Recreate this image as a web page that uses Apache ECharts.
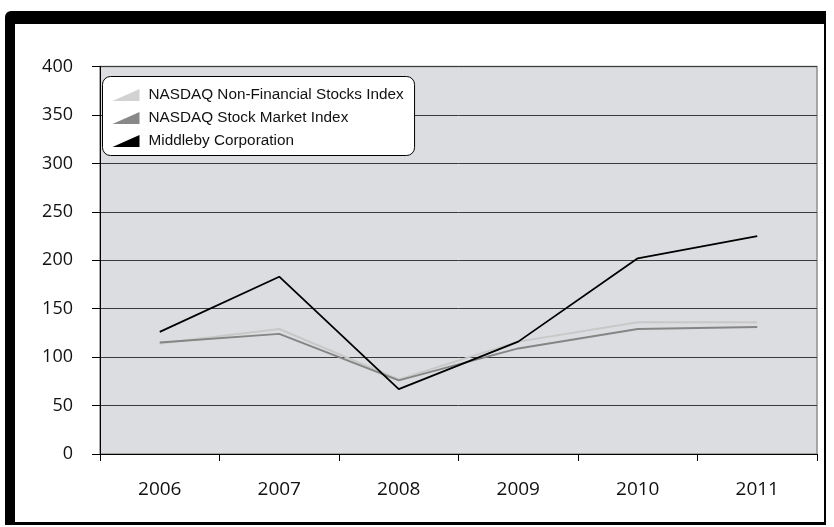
<!DOCTYPE html>
<html>
<head>
<meta charset="utf-8">
<script src="https://cdn.jsdelivr.net/npm/echarts@6/dist/echarts.min.js"></script>
<style>html,body{margin:0;padding:0;background:#fff;}#c{width:834px;height:527px;}</style>
</head>
<body>
<div id="c"></div>
<script>
var years = ['2006', '2007', '2008', '2009', '2010', '2011'];
var nonFinancial = [114, 129, 77, 116, 136, 136];
var stockMarket = [115, 124, 76, 109, 129, 131];
var middleby = [126, 183, 67, 116, 202, 225];
var seriesNames = ['NASDAQ Non-Financial Stocks Index', 'NASDAQ Stock Market Index', 'Middleby Corporation'];
var yTicks = [0, 50, 100, 150, 200, 250, 300, 350, 400];

var chart = echarts.init(document.getElementById('c'), null, {renderer: 'canvas'});
var wedge = 'path://M0,12L27,0L27,12Z';
var axisFont = 'Open Sans';
chart.setOption({
  animation: false,
  graphic: [
    {type: 'rect', z: -10, shape: {x: 5, y: 11, width: 821, height: 514, r: [6, 0, 0, 0]}, style: {fill: '#000'}},
    {type: 'rect', z: -9, shape: {x: 15, y: 24, width: 809, height: 498}, style: {fill: '#fff'}}
  ],
  grid: {left: 100, right: 17, top: 66.5, bottom: 73, show: true, backgroundColor: '#dcdde0', borderColor: '#8f8f8f', borderWidth: 1.5},
  legend: {
    orient: 'vertical', left: 102.5, top: 76.5,
    backgroundColor: '#fff', borderColor: '#000', borderWidth: 1, borderRadius: 8,
    padding: [11, 11, 7, 10], itemGap: 8, itemWidth: 27, itemHeight: 12,
    textStyle: {fontFamily: 'Liberation Sans', fontSize: 15.3, color: '#111', padding: [0, 0, 0, 4]},
    data: [
      {name: seriesNames[0], icon: wedge, itemStyle: {color: '#d2d2d2'}},
      {name: seriesNames[1], icon: wedge, itemStyle: {color: '#888'}},
      {name: seriesNames[2], icon: wedge, itemStyle: {color: '#000'}}
    ]
  },
  xAxis: {
    type: 'category', data: years, boundaryGap: true,
    axisLine: {lineStyle: {color: '#000', width: 1}},
    axisTick: {show: true, length: 7, lineStyle: {color: '#000'}},
    axisLabel: {fontFamily: axisFont, fontSize: 19, color: '#111', margin: 26}
  },
  yAxis: {
    type: 'value', min: 0, max: 400, interval: 50,
    axisLine: {show: true, lineStyle: {color: '#000', width: 1}},
    axisTick: {show: true, length: 8, lineStyle: {color: '#000'}},
    axisLabel: {fontFamily: axisFont, fontSize: 18, color: '#111', margin: 27},
    splitLine: {show: true, lineStyle: {color: '#3a3a3a', width: 1}}
  },
  series: [
    {name: seriesNames[0], type: 'line', data: nonFinancial, showSymbol: false, symbol: 'none', lineStyle: {color: '#c8c8c8', width: 2}, itemStyle: {color: '#d2d2d2'}, z: 2},
    {name: seriesNames[1], type: 'line', data: stockMarket, showSymbol: false, symbol: 'none', lineStyle: {color: '#858585', width: 2}, itemStyle: {color: '#888'}, z: 3},
    {name: seriesNames[2], type: 'line', data: middleby, showSymbol: false, symbol: 'none', lineStyle: {color: '#000', width: 1.8}, itemStyle: {color: '#000'}, z: 4}
  ]
});
</script>
</body>
</html>
